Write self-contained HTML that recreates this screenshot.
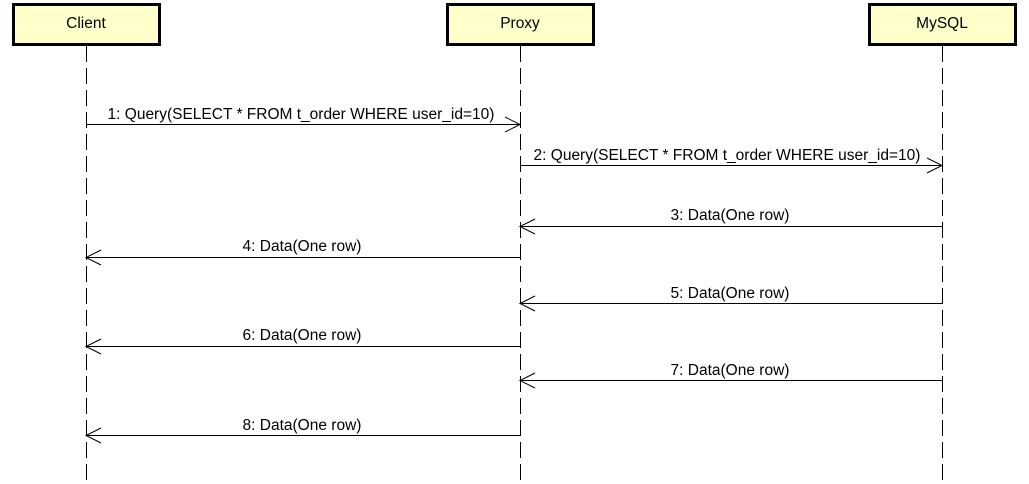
<!DOCTYPE html>
<html><head><meta charset="utf-8"><style>
html,body{margin:0;padding:0;background:#fff;}
svg{display:block;}
text{font-family:"Liberation Sans",sans-serif;font-size:15.5px;fill:#000;}
</style></head><body>
<svg width="1029" height="484" viewBox="0 0 1029 484">
<g stroke="#000" stroke-width="1" stroke-dasharray="16,6">
<line x1="86.5" y1="46" x2="86.5" y2="484"/>
<line x1="520.5" y1="46" x2="520.5" y2="484"/>
<line x1="942.5" y1="46" x2="942.5" y2="484"/>
</g>
<g fill="#ffffcc" stroke="#000" stroke-width="3">
<rect x="13.5" y="4.5" width="146" height="40"/>
<rect x="447.5" y="4.5" width="146" height="40"/>
<rect x="869.5" y="4.5" width="146" height="40"/>
</g>
<text x="86" y="28" text-anchor="middle">Client</text>
<text x="520" y="28" text-anchor="middle">Proxy</text>
<text x="942" y="28" text-anchor="middle">MySQL</text>
<g stroke="#000" stroke-width="1" fill="none">
<line x1="86" y1="124.5" x2="520" y2="124.5"/><polyline points="505,117 520,124.5 505,132"/>
<line x1="520" y1="165.5" x2="942" y2="165.5"/><polyline points="927,158 942,165.5 927,173"/>
<line x1="520" y1="226.5" x2="942" y2="226.5"/><polyline points="535,219 520,226.5 535,234"/>
<line x1="86" y1="257.5" x2="520" y2="257.5"/><polyline points="101,250 86,257.5 101,265"/>
<line x1="520" y1="303.5" x2="942" y2="303.5"/><polyline points="535,296 520,303.5 535,311"/>
<line x1="86" y1="346.5" x2="520" y2="346.5"/><polyline points="101,339 86,346.5 101,354"/>
<line x1="520" y1="380.5" x2="942" y2="380.5"/><polyline points="535,373 520,380.5 535,388"/>
<line x1="86" y1="435.5" x2="520" y2="435.5"/><polyline points="101,428 86,435.5 101,443"/>
</g>
<text x="301" y="119" text-anchor="middle">1: Query(SELECT * FROM t_order WHERE user_id=10)</text>
<text x="727" y="160" text-anchor="middle">2: Query(SELECT * FROM t_order WHERE user_id=10)</text>
<text x="730" y="220" text-anchor="middle">3: Data(One row)</text>
<text x="302" y="251" text-anchor="middle">4: Data(One row)</text>
<text x="730" y="298" text-anchor="middle">5: Data(One row)</text>
<text x="302" y="340" text-anchor="middle">6: Data(One row)</text>
<text x="730" y="375" text-anchor="middle">7: Data(One row)</text>
<text x="302" y="430" text-anchor="middle">8: Data(One row)</text>
</svg>
</body></html>
